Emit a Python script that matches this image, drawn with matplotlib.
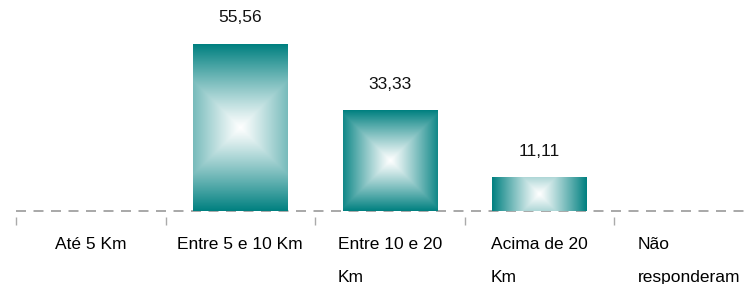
import matplotlib
matplotlib.use("Agg")
import matplotlib.pyplot as plt
import numpy as np

# dados
categorias = ["Até 5 Km", "Entre 5 e 10 Km", "Entre 10 e 20\nKm", "Acima de 20\nKm", "Não\nresponderam"]
valores = [0, 55.56, 33.33, 11.11, 0]
rotulos = ["", "55,56", "33,33", "11,11", ""]

plt.rcParams['font.family'] = ['Liberation Sans', 'DejaVu Sans']

fig = plt.figure(figsize=(7.47, 2.84), dpi=100)
# a ultima categoria passa um pouco da borda direita
ax = fig.add_axes([16/747, 73/284, 747.5/747, 211/284])

teal = np.array([0, 128, 128]) / 255.0
branco = np.array([1.0, 1.0, 1.0])

ymax = 70.2
largura = 0.63

def gradiente(w, h, n=240):
    # gradiente do centro com aneis quadrados (em pixels),
    # normalizado pelo lado maior da barra
    hw, hh = w / 2.0, h / 2.0
    dx = np.abs(np.linspace(-1, 1, n))[None, :] * hw
    dy = np.abs(np.linspace(-1, 1, n))[:, None] * hh
    t = np.maximum(dx, dy) / max(hw, hh)
    t = t ** 1.1
    img = branco[None, None, :] * (1 - t[..., None]) + teal[None, None, :] * t[..., None]
    return img

x = np.arange(len(categorias))
for i, v in enumerate(valores):
    if v <= 0:
        continue
    x0 = x[i] - largura / 2
    x1 = x[i] + largura / 2
    # tamanho aproximado da barra em pixels para o gradiente
    wpx = largura * 747.5 / len(categorias)
    hpx = v / ymax * 211
    ax.imshow(gradiente(wpx, hpx), extent=(x0, x1, 0, v), aspect='auto',
              interpolation='bilinear', zorder=2)
    ax.text(x[i], v + 8.7, rotulos[i], ha='center', va='center', fontsize=12.5, color='#111111')

ax.set_xlim(-0.5, len(categorias) - 0.5)
ax.set_ylim(0, ymax)

# linha do eixo tracejada
ax.axhline(0, color='#999999', lw=1.2, ls=(0, (6, 4.5)), zorder=1, clip_on=False)

for s in ['top', 'right', 'left']:
    ax.spines[s].set_visible(False)
ax.spines['bottom'].set_visible(False)
ax.spines['bottom'].set_position(('outward', 4))
ax.set_yticks([])

ax.set_xticks(np.arange(len(categorias) + 1) - 0.5)
ax.set_xticklabels([])
ax.tick_params(axis='x', which='major', length=6, color='#aaaaaa', width=1)
ax.set_xticks(x, minor=True)
ax.set_xticklabels(categorias, minor=True, fontsize=12.5, ha='center',
                   multialignment='left', linespacing=2.45, va='top')
ax.tick_params(axis='x', which='minor', length=0, pad=15)

fig.savefig("out.png", dpi=100)
